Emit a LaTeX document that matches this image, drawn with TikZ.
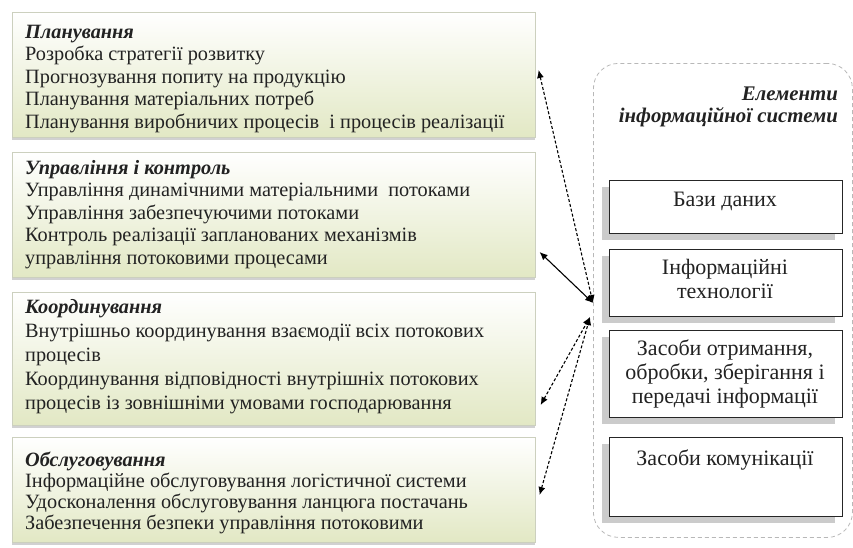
\documentclass[tikz,border=0pt]{standalone}
\usepackage{fontspec}
\setmainfont{Liberation Serif}
\usetikzlibrary{shadows,arrows.meta}
\definecolor{panelgreen}{HTML}{E2E8C4}
\definecolor{panelline}{HTML}{CCD0BE}
\definecolor{framegray}{HTML}{B8B8B8}
\definecolor{shadegray}{HTML}{CBCBCB}
\definecolor{inkgray}{HTML}{222222}

\begin{document}
\begin{tikzpicture}[x=1pt, y=-1pt,
	panel/.style={draw=panelline, line width=0.6pt, top color=white, bottom color=panelgreen, minimum width=523pt, anchor=north west, inner sep=0pt,
		drop shadow={shadow xshift=0pt, shadow yshift=-3pt, fill=black!40, opacity=0.45}},
	paneltext/.style={anchor=north west, align=left, inner sep=0pt, text=inkgray, font=\fontsize{20.3}{22.5}\selectfont},
	elem/.style={draw=black!85, line width=1pt, fill=white, minimum width=233pt, anchor=north west, inner sep=0pt,
		drop shadow={shadow xshift=-8pt, shadow yshift=-6pt, fill=shadegray, opacity=1}},
	elemtext/.style={anchor=north, align=center, inner sep=0pt, text=inkgray, font=\fontsize{22}{24}\selectfont},
	link/.style={densely dashed, line width=1.1pt, {Latex[length=8pt,width=7pt]}-{Latex[length=8pt,width=7pt]}}]
				\useasboundingbox (0,0) rectangle (853,547);

				\node [panel, minimum height=125pt] (plan) at (12,12) {};
				\node [paneltext] (plantext) at (25,25) {\textbf{\textit{Планування}}\\Розробка стратегії розвитку\\Прогнозування попиту на продукцію\\Планування матеріальних потреб\\Планування виробничих процесів~ і процесів реалізації};

				\node [panel, minimum height=125pt] (upr) at (12,152) {};
				\node [paneltext] (uprtext) at (25,160) {\textbf{\textit{Управління і контроль}}\\Управління динамічними матеріальними~ потоками\\Управління забезпечуючими потоками\\Контроль реалізації запланованих механізмів\\управління потоковими процесами};

				\node [panel, minimum height=133pt] (koord) at (12,292) {};
				\node [paneltext, font=\fontsize{20.3}{24}\selectfont] (koordtext) at (25,299) {\textbf{\textit{Координування}}\\Внутрішньо координування взаємодії всіх потокових\\процесів\\Координування відповідності внутрішніх потокових\\процесів із зовнішніми умовами господарювання};

				\node [panel, minimum height=105pt] (obsl) at (12,437) {};
				\node [paneltext, font=\fontsize{20.3}{21}\selectfont] (obsltext) at (25,452) {\textbf{\textit{Обслуговування}}\\Інформаційне обслуговування логістичної системи\\Удосконалення обслуговування ланцюга постачань\\Забезпечення безпеки управління потоковими};

				\node [draw=framegray, line width=0.8pt, dash pattern=on 4pt off 3pt, rounded corners=25pt, minimum width=259pt, minimum height=474pt, anchor=north west] (sys) at (593,63) {};
				\node [anchor=north east, align=right, inner sep=0pt, text=inkgray, font=\fontsize{20.8}{22}\selectfont\bfseries\itshape] (systitle) at (838,86.5) {Елементи\\інформаційної системи};

				\node [elem, minimum height=53pt] (bd) at (609,180) {};
				\node [elemtext] (bdtext) at (725,191.5) {Бази даних};

				\node [elem, minimum height=67pt] (it) at (609,249) {};
				\node [elemtext] (ittext) at (725,259.5) {Інформаційні\\технології};

				\node [elem, minimum height=87pt] (zo) at (609,330) {};
				\node [elemtext] (zotext) at (725,339.5) {Засоби отримання,\\обробки, зберігання і\\передачі інформації};

				\node [elem, minimum height=79pt] (zk) at (609,437) {};
				\node [elemtext] (zktext) at (725,449.5) {Засоби комунікації};

				\coordinate (hubtop) at (593,303);
				\coordinate (hublow) at (590,317);
				\draw [link] ([xshift=3pt,yshift=-58pt]plan.north east) -- (hubtop);
				\draw [link, solid] ([xshift=4pt,yshift=-100pt]upr.north east) -- (hubtop);
				\draw [link] ([xshift=5pt,yshift=-113pt]koord.north east) -- (hublow);
				\draw [link] ([xshift=4pt,yshift=-58pt]obsl.north east) -- (hublow);
			\end{tikzpicture}
\end{document}
